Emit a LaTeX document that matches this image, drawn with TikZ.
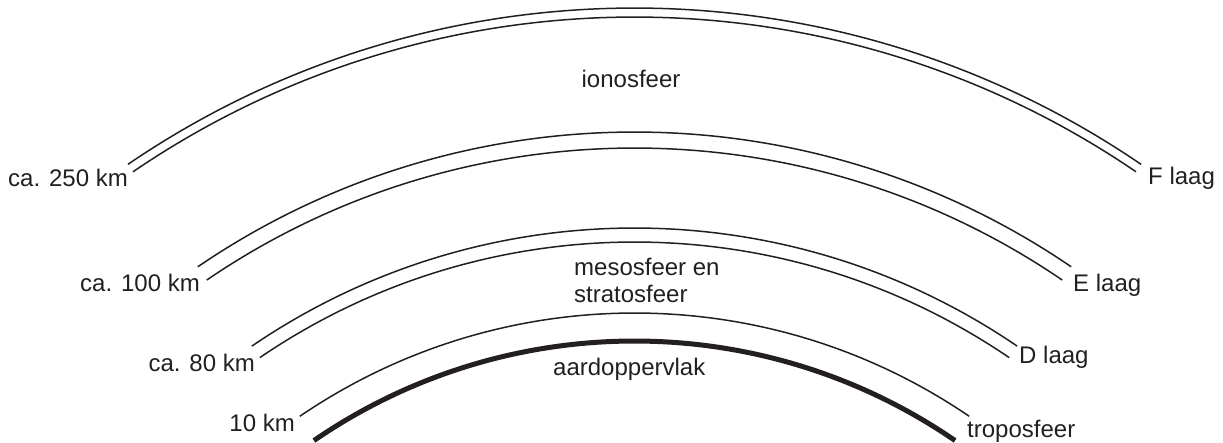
\documentclass[tikz,border=0pt]{standalone}
\usepackage{fontspec}
\setmainfont{Liberation Sans}
\definecolor{ink}{HTML}{231F20}
\begin{document}
\begin{tikzpicture}[x=1pt,y=1pt,
  layer/.style={draw=ink,line width=1.5pt},
  earthline/.style={draw=ink,line width=5pt},
  lbl/.style={inner sep=0pt,text=ink,font=\fontsize{24}{27}\selectfont}]
\useasboundingbox (0,0) rectangle (1223,443);
\coordinate (C) at (634.5,-464);
% F layer
\draw[layer] ([shift={(124.3:899)}]C) arc[start angle=124.3,end angle=55.7,radius=899];
\draw[layer] ([shift={(124.3:890)}]C) arc[start angle=124.3,end angle=55.7,radius=890];
% E layer
\draw[layer] ([shift={(124.3:775)}]C) arc[start angle=124.3,end angle=55.7,radius=775];
\draw[layer] ([shift={(124.3:759)}]C) arc[start angle=124.3,end angle=55.7,radius=759];
% D layer
\draw[layer] ([shift={(124.3:679)}]C) arc[start angle=124.3,end angle=55.7,radius=679];
\draw[layer] ([shift={(124.3:665)}]C) arc[start angle=124.3,end angle=55.7,radius=665];
% troposphere boundary
\draw[layer] ([shift={(124.3:594)}]C) arc[start angle=124.3,end angle=55.7,radius=594];
% earth surface
\draw[earthline] ([shift={(124.5:566)}]C) arc[start angle=124.5,end angle=55.5,radius=566];
% labels
\node[lbl,anchor=base] (iono) at (631,355) {ionosfeer};
\node[lbl,anchor=base east] (k250) at (128,256) {ca. 250 km};
\node[lbl,anchor=base east] (k100) at (200,151) {ca. 100 km};
\node[lbl,anchor=base east] (k80) at (255,71) {ca. 80 km};
\node[lbl,anchor=base east] (k10) at (295,11) {10 km};
\node[lbl,anchor=base west] (F) at (1148,258) {F laag};
\node[lbl,anchor=base west] (E) at (1073,151) {E laag};
\node[lbl,anchor=base west] (D) at (1019,79) {D laag};
\node[lbl,anchor=base west] (tropo) at (967,5) {troposfeer};
\node[lbl,anchor=base west] (meso) at (574,167) {mesosfeer en};
\node[lbl,anchor=base west] (strato) at (574,140) {stratosfeer};
\node[lbl,anchor=base west] (aarde) at (553,67) {aardoppervlak};
\end{tikzpicture}
\end{document}
